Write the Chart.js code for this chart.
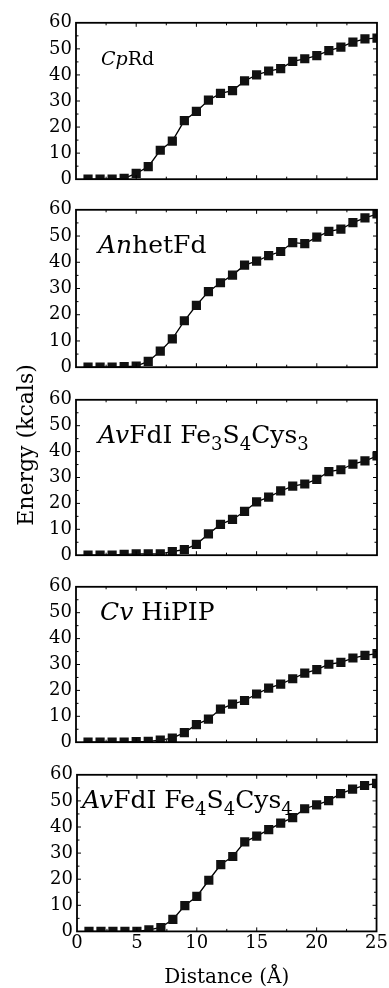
<!DOCTYPE html>
<html>
<head>
<meta charset="utf-8">
<script src="https://cdn.jsdelivr.net/npm/chart.js@4.4.1/dist/chart.umd.min.js"></script>
<style>
  html, body { margin: 0; padding: 0; background: #fff; }
  body { width: 389px; height: 988px; position: relative; overflow: hidden; }
  canvas { position: absolute; left: 0; }
  #ylabel {
    position: absolute; left: -74px; top: 434px; width: 200px; height: 22px;
    line-height: 22px; text-align: center; white-space: nowrap;
    font-family: "DejaVu Serif"; font-size: 22px; color: #000;
    transform: rotate(-90deg);
  }
</style>
</head>
<body>
<canvas id="c1" width="389" height="186" style="top:8px"></canvas>
<canvas id="c2" width="389" height="187" style="top:195px"></canvas>
<canvas id="c3" width="389" height="185" style="top:385px"></canvas>
<canvas id="c4" width="389" height="185" style="top:572px"></canvas>
<canvas id="c5" width="389" height="228" style="top:760px"></canvas>
<div id="ylabel">Energy (kcals)</div>
<script>
// distance in Angstrom, same for every panel
const distance = [1, 2, 3, 4, 5, 6, 7, 8, 9, 10, 11, 12, 13, 14, 15, 16, 17, 18, 19, 20, 21, 22, 23, 24, 25]

// energies (kcals)
const cpRd = [0, 0, 0, 0.3, 2.2, 4.8, 11.1, 14.6, 22.5, 26, 30.3, 32.9, 34, 37.7, 40, 41.5, 42.4, 45.2, 46.2, 47.4, 49.3, 50.7, 52.6, 53.8, 54.1]
const anhetFd = [0, 0, 0, 0.2, 0.4, 2.2, 6.1, 10.8, 17.7, 23.6, 28.8, 32.2, 35.1, 38.9, 40.4, 42.5, 44.1, 47.5, 47.1, 49.6, 51.8, 52.6, 55.1, 56.9, 58.4]
const avFe3S4 = [0, 0, 0, 0.3, 0.5, 0.5, 0.5, 1.4, 2.2, 4.2, 8.2, 11.9, 13.8, 16.9, 20.6, 22.4, 24.8, 26.7, 27.5, 29.3, 32.3, 33, 35.2, 36.4, 38.3]
const cvHiPIP = [0, 0, 0, 0, 0.2, 0.3, 0.8, 1.6, 3.7, 6.8, 8.9, 12.8, 14.7, 16.1, 18.6, 20.9, 22.4, 24.5, 26.7, 28, 30.1, 30.8, 32.5, 33.5, 34.2]
const avFe4S4 = [0, 0, 0, 0, 0, 0.6, 1.5, 4.6, 9.9, 13.4, 19.6, 25.6, 28.7, 34.3, 36.5, 39, 41.5, 43.6, 47, 48.5, 50.1, 52.8, 54.5, 55.9, 56.7]

// panel labels: [text, style]  i = italic, n = normal, s = subscript
const titleCp = [["Cp", "i"], ["Rd", "n"]]
const titleAn = [["An", "i"], ["hetFd", "n"]]
const titleAv3 = [["Av", "i"], ["FdI Fe", "n"], ["3", "s"], ["S", "n"], ["4", "s"], ["Cys", "n"], ["3", "s"]]
const titleCv = [["Cv", "i"], [" HiPIP", "n"]]
const titleAv4 = [["Av", "i"], ["FdI Fe", "n"], ["4", "s"], ["S", "n"], ["4", "s"], ["Cys", "n"], ["4", "s"]]

// inward tick marks
const xMarks = [2.5, 5, 7.5, 10, 12.5, 15, 17.5, 20, 22.5]
const yMarks = [5, 10, 15, 20, 25, 30, 35, 40, 45, 50, 55]

const FONT = '"DejaVu Serif", "Liberation Serif", serif'

const framePlugin = {
    id: 'frame',
    afterDatasetsDraw(chart, args, o) {
        const {ctx, chartArea: a, scales} = chart
        ctx.save()
        ctx.strokeStyle = '#000'
        ctx.lineWidth = 1
        ctx.beginPath()
        for (const v of xMarks) {
            const px = scales.x.getPixelForValue(v)
            const len = v % 5 === 0 ? 4 : 2.5
            ctx.moveTo(px, a.bottom); ctx.lineTo(px, a.bottom - len)
            ctx.moveTo(px, a.top); ctx.lineTo(px, a.top + len)
        }
        for (const v of yMarks) {
            const py = scales.y.getPixelForValue(v)
            const len = v % 10 === 0 ? 4 : 2.5
            ctx.moveTo(a.left, py); ctx.lineTo(a.left + len, py)
            ctx.moveTo(a.right, py); ctx.lineTo(a.right - len, py)
        }
        ctx.stroke()
        ctx.lineWidth = 1.8
        ctx.strokeRect(a.left, a.top, a.right - a.left, a.bottom - a.top)

        // panel label
        ctx.fillStyle = '#000'
        ctx.textBaseline = 'alphabetic'
        let cx = a.left + o.dx
        const base = a.top + o.dy
        for (const [t, s] of o.title) {
            const sz = s === 's' ? o.size * 0.72 : o.size
            ctx.font = (s === 'i' ? 'italic ' : '') + sz + 'px ' + FONT
            ctx.fillText(t, cx, s === 's' ? base + o.size * 0.28 : base)
            cx += ctx.measureText(t).width
        }
        ctx.restore()
    }
}

function makePanel(id, values, title, dx, dy, size, last) {
    new Chart(document.getElementById(id), {
        type: 'line',
        data: {
            datasets: [{
                data: distance.map((d, i) => ({x: d, y: values[i]})),
                borderColor: '#000',
                borderWidth: 1.3,
                backgroundColor: '#111',
                pointStyle: 'rect',
                pointRadius: 6.5,
                pointBorderWidth: 0,
                pointBackgroundColor: '#111',
                tension: 0,
            }]
        },
        options: {
            responsive: false,
            animation: false,
            devicePixelRatio: 1,
            events: [],
            layout: {padding: {top: 12, right: 12, bottom: last ? 0 : 12, left: 0}},
            plugins: {
                legend: {display: false},
                tooltip: {enabled: false},
                frame: {title: title, dx: dx, dy: dy, size: size},
            },
            scales: {
                x: {
                    type: 'linear',
                    min: 0,
                    max: 25,
                    display: last,
                    grid: {display: false, drawTicks: false},
                    border: {display: false},
                    ticks: {
                        stepSize: 5,
                        padding: 1,
                        color: '#000',
                        font: {family: FONT, size: 18},
                    },
                    title: {
                        display: true,
                        text: 'Distance (Å)',
                        color: '#000',
                        font: {family: FONT, size: 20, lineHeight: 1},
                        padding: {top: 13, bottom: 0},
                    },
                },
                y: {
                    type: 'linear',
                    min: 0,
                    max: 60,
                    grid: {display: false, drawTicks: false},
                    border: {display: false},
                    ticks: {
                        stepSize: 10,
                        padding: 4,
                        color: '#000',
                        font: {family: FONT, size: 18},
                    },
                    afterFit: (scale) => { scale.width = last ? 77 : 76 },
                },
            },
        },
        plugins: [framePlugin],
    })
}

makePanel('c1', cpRd, titleCp, 25, 42, 19, false)
makePanel('c2', anhetFd, titleAn, 22, 43, 25, false)
makePanel('c3', avFe3S4, titleAv3, 22, 43, 25, false)
makePanel('c4', cvHiPIP, titleCv, 24, 33, 25, false)
makePanel('c5', avFe4S4, titleAv4, 5, 33, 25, true)
</script>
</body>
</html>
